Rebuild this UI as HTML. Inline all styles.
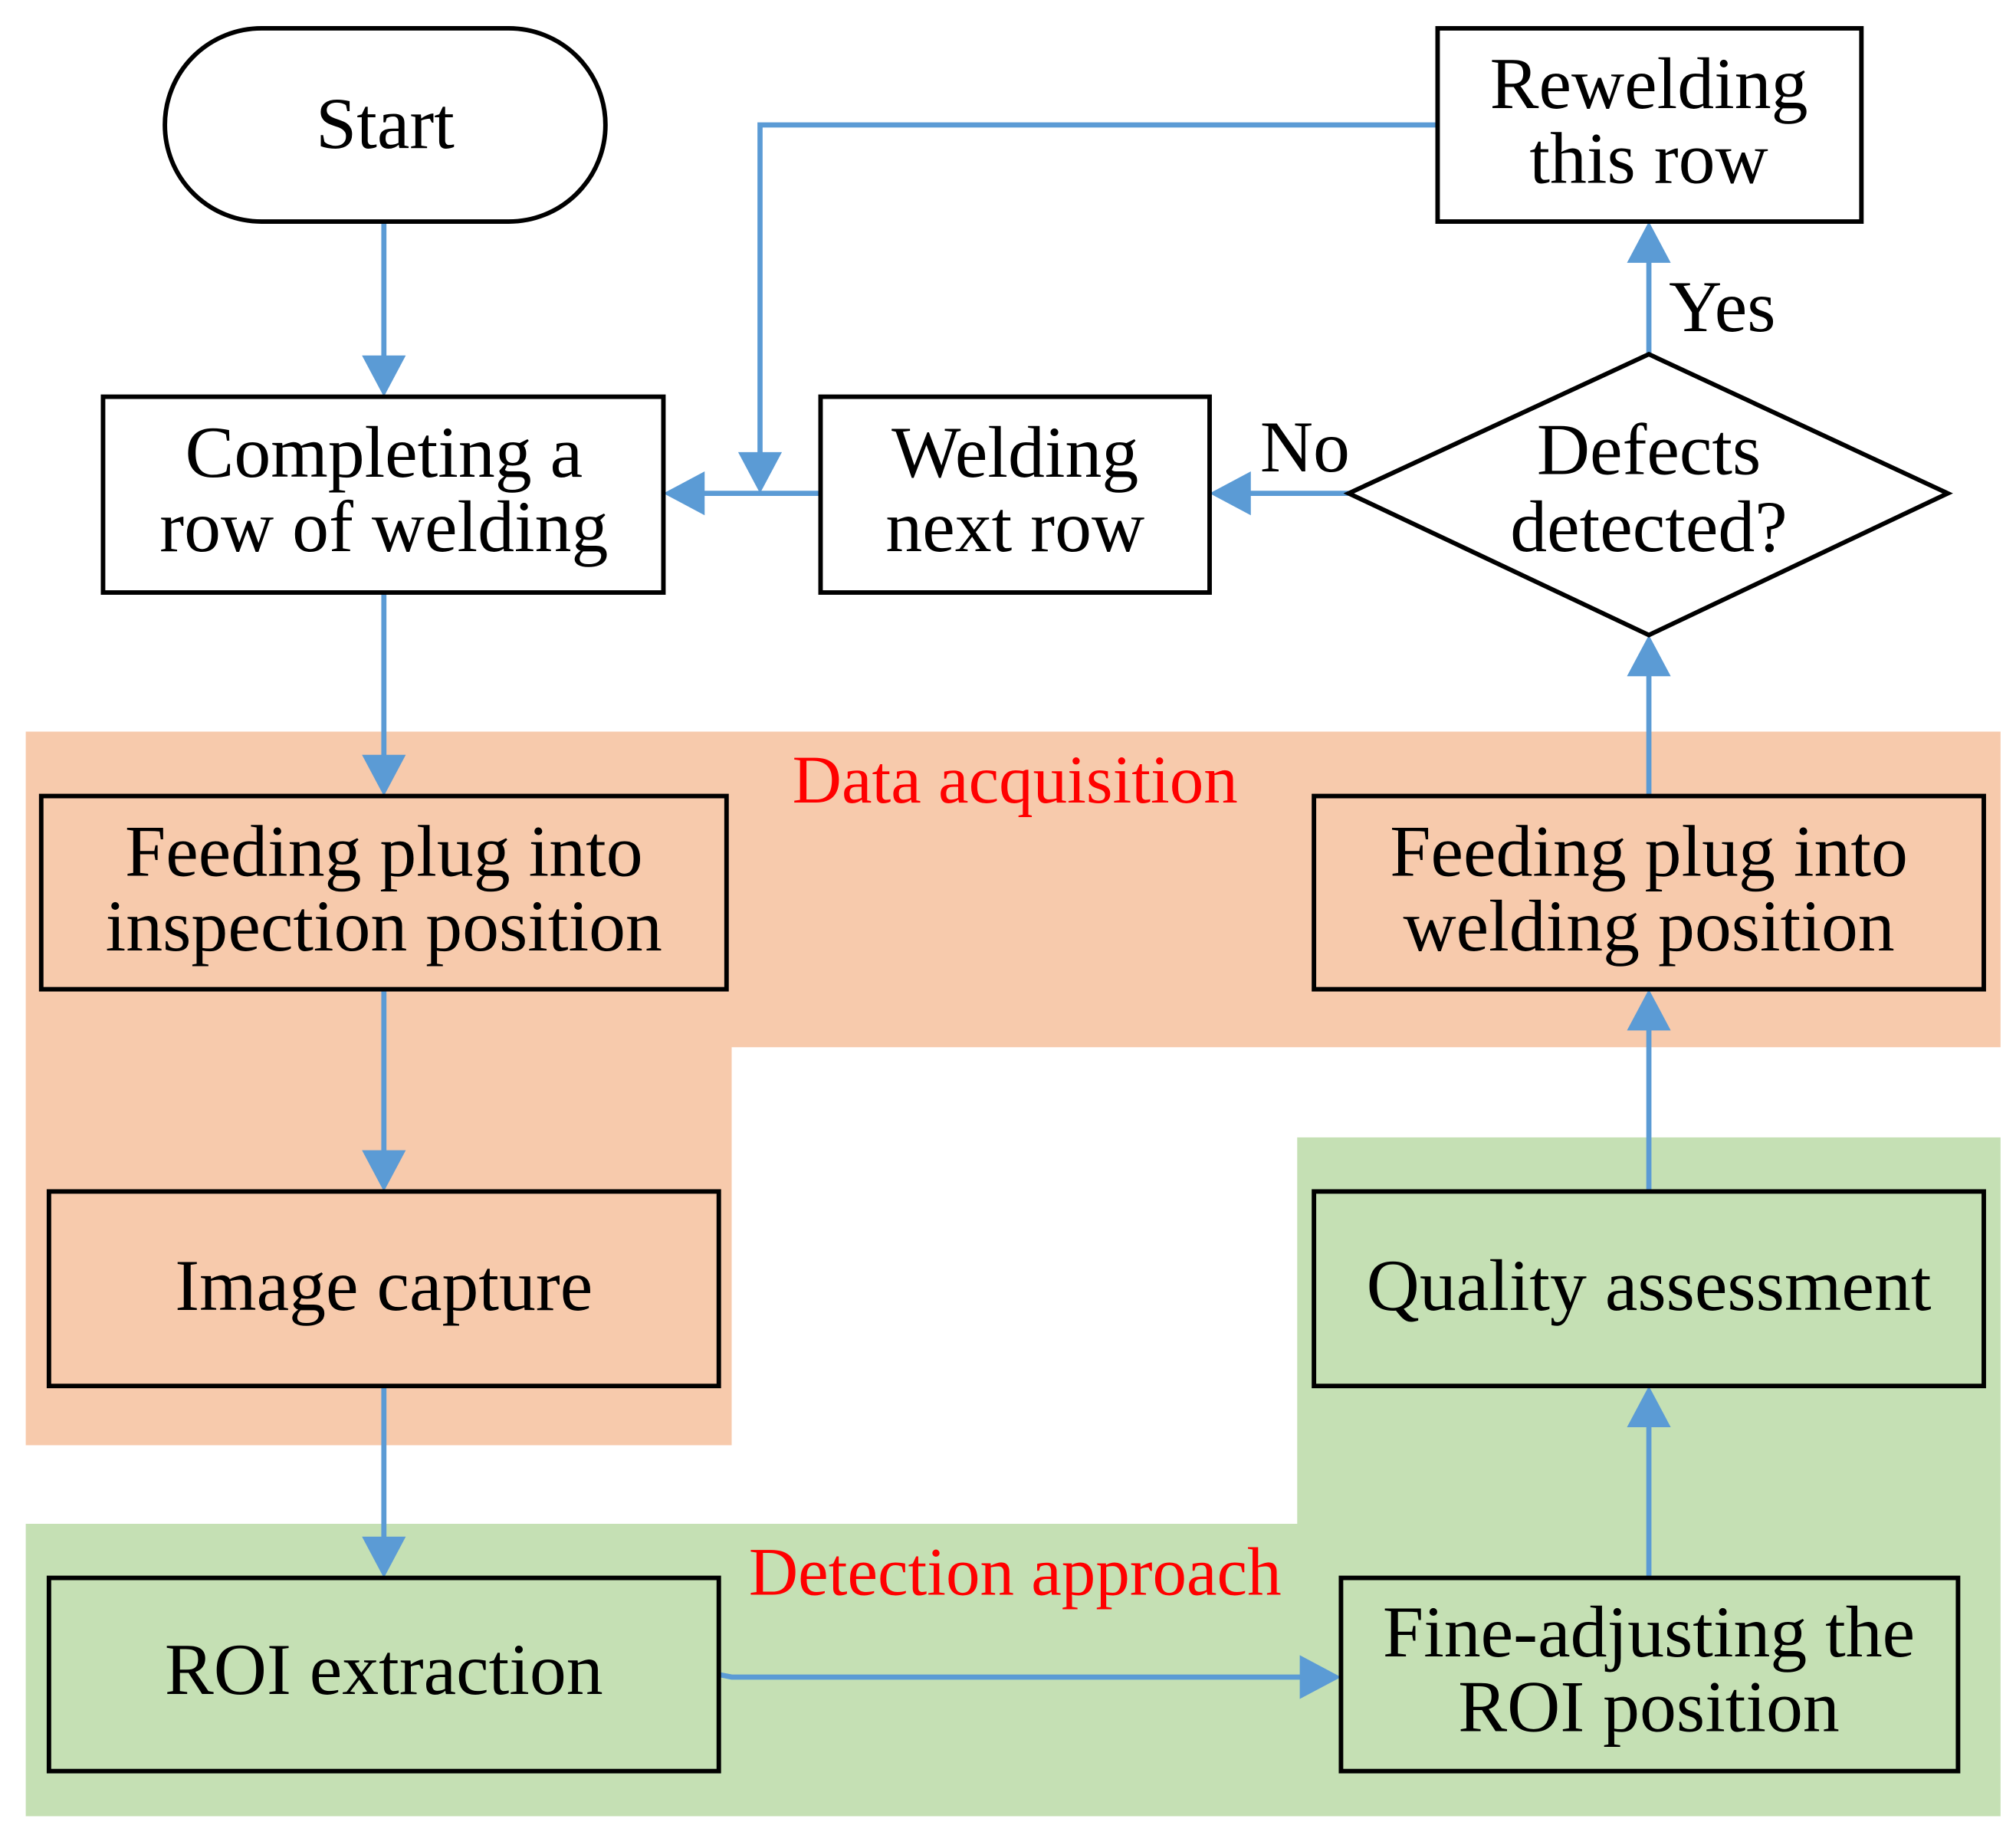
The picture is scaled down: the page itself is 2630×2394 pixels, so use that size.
<!DOCTYPE html>
<html><head><meta charset="utf-8"><style>
html,body{margin:0;padding:0;background:#fff;}
svg{display:block;}
text{font-family:"Liberation Serif",serif;font-size:57px;text-anchor:middle;fill:#000;}
.r{fill:#ff0000;font-size:53px;}
.b{fill:none;stroke:#000;stroke-width:3.5;}
.l{stroke:#5b9bd5;stroke-width:4;fill:none;}
.a{fill:#5b9bd5;}
</style></head><body>
<svg width="2630" height="2394" viewBox="0 0 1565 1424.6" preserveAspectRatio="none" xmlns="http://www.w3.org/2000/svg">
<polygon points="20,568 1553,568 1553,813 568,813 568,1122 20,1122" fill="#f7caac"/>
<polygon points="1007,883 1553,883 1553,1410 20,1410 20,1183 1007,1183" fill="#c5e0b4"/>
<text class="r" x="788" y="623">Data acquisition</text>
<text class="r" x="788" y="1238">Detection approach</text>

<line class="l" x1="298" y1="172" x2="298" y2="280"/><polygon class="a" points="281,276 315,276 298,308"/>
<line class="l" x1="298" y1="460" x2="298" y2="590"/><polygon class="a" points="281,586 315,586 298,618"/>
<line class="l" x1="298" y1="768" x2="298" y2="897"/><polygon class="a" points="281,893 315,893 298,925"/>
<line class="l" x1="298" y1="1076" x2="298" y2="1197"/><polygon class="a" points="281,1193 315,1193 298,1225"/>
<polyline class="l" points="558,1300 568,1302 1013,1302"/><polygon class="a" points="1009,1285 1009,1319 1041,1302"/>
<line class="l" x1="1280" y1="1225" x2="1280" y2="1104"/><polygon class="a" points="1263,1108 1297,1108 1280,1076"/>
<line class="l" x1="1280" y1="925" x2="1280" y2="796"/><polygon class="a" points="1263,800 1297,800 1280,768"/>
<line class="l" x1="1280" y1="618" x2="1280" y2="521"/><polygon class="a" points="1263,525 1297,525 1280,493"/>
<line class="l" x1="1280" y1="275" x2="1280" y2="200"/><polygon class="a" points="1263,204 1297,204 1280,172"/>
<line class="l" x1="1047" y1="383" x2="967" y2="383"/><polygon class="a" points="971,366 971,400 939,383"/>
<line class="l" x1="637" y1="383" x2="543" y2="383"/><polygon class="a" points="547,366 547,400 515,383"/>
<polyline class="l" points="1116,97 590,97 590,355"/><polygon class="a" points="573,351 607,351 590,383"/>
<text x="1337" y="257">Yes</text>
<text x="1013" y="366">No</text>

<rect class="b" x="128" y="22" width="342" height="150" rx="75" fill="#fff"/>
<text x="299" y="115">Start</text>
<rect class="b" x="80" y="308" width="435" height="152" fill="#fff"/>
<text x="298" y="370">Completing a</text><text x="298" y="428">row of welding</text>
<rect class="b" x="637" y="308" width="302" height="152" fill="#fff"/>
<text x="788" y="370">Welding</text><text x="788" y="428">next row</text>
<polygon class="b" points="1047,383 1280,275 1512,383 1280,493" fill="#fff"/>
<text x="1280" y="368">Defects</text><text x="1280" y="428">detected?</text>
<rect class="b" x="1116" y="22" width="329" height="150" fill="#fff"/>
<text x="1280" y="84">Rewelding</text><text x="1280" y="142">this row</text>

<rect class="b" x="32" y="618" width="532" height="150"/>
<text x="298" y="680">Feeding plug into</text><text x="298" y="738">inspection position</text>
<rect class="b" x="1020" y="618" width="520" height="150"/>
<text x="1280" y="680">Feeding plug into</text><text x="1280" y="738">welding position</text>
<rect class="b" x="38" y="925" width="520" height="151"/>
<text x="298" y="1017">Image capture</text>
<rect class="b" x="1020" y="925" width="520" height="151"/>
<text x="1280" y="1017">Quality assessment</text>
<rect class="b" x="38" y="1225" width="520" height="150"/>
<text x="298" y="1315">ROI extraction</text>
<rect class="b" x="1041" y="1225" width="479" height="150"/>
<text x="1280" y="1286">Fine-adjusting the</text><text x="1280" y="1344">ROI position</text>
</svg>
</body></html>
